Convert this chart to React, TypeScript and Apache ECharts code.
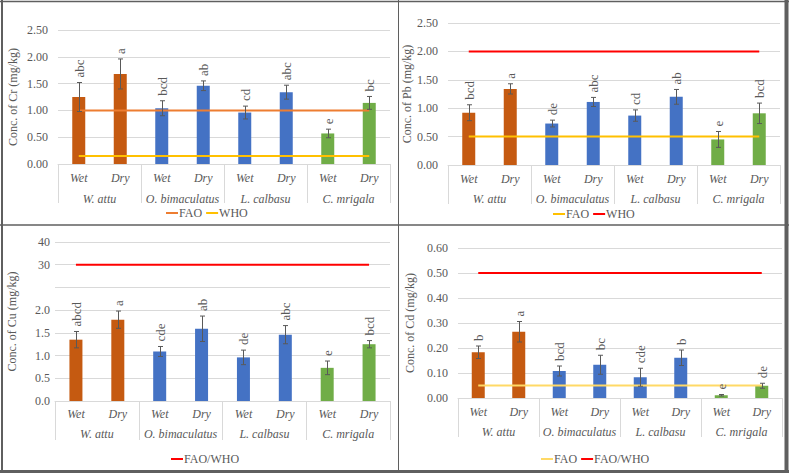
import React, { useEffect, useRef } from 'react';
import * as echarts from 'echarts';

// ---------- data ----------
const seasons = ['Wet', 'Dry', 'Wet', 'Dry', 'Wet', 'Dry', 'Wet', 'Dry'];
const species = ['W. attu', 'O. bimaculatus', 'L. calbasu', 'C. mrigala'];
const speciesColors = ['#C55A11', '#4472C4', '#4472C4', '#70AD47'];

const crMean = [1.25, 1.68, 1.04, 1.46, 0.96, 1.34, 0.57, 1.14];
const crErr = [0.27, 0.28, 0.14, 0.09, 0.12, 0.13, 0.08, 0.12];
const crLetters = ['abc', 'a', 'bcd', 'ab', 'cd', 'abc', 'e', 'bc'];
const crFAO = 1.0;
const crWHO = 0.15;

const pbMean = [0.92, 1.34, 0.73, 1.11, 0.87, 1.2, 0.45, 0.91];
const pbErr = [0.14, 0.09, 0.06, 0.08, 0.1, 0.13, 0.14, 0.18];
const pbLetters = ['bcd', 'a', 'de', 'abc', 'cd', 'ab', 'e', 'bcd'];
const pbFAO = 0.5;
const pbWHO = 2.0;

const cuMean = [1.35, 1.79, 1.09, 1.59, 0.96, 1.46, 0.73, 1.25];
const cuErr = [0.18, 0.19, 0.11, 0.28, 0.16, 0.2, 0.15, 0.08];
const cuLetters = ['abcd', 'a', 'cde', 'ab', 'de', 'abc', 'e', 'bcd'];
const cuFAOWHO = 30;

const cdMean = [0.183, 0.265, 0.108, 0.133, 0.083, 0.161, 0.011, 0.049];
const cdErr = [0.025, 0.041, 0.02, 0.038, 0.036, 0.031, 0.003, 0.01];
const cdLetters = ['b', 'a', 'bcd', 'bc', 'cde', 'b', 'e', 'de'];
const cdFAO = 0.05;
const cdFAOWHO = 0.5;

// ---------- styling ----------
const FONT = 'Liberation Serif';
const TXT = '#595959';
const GRIDC = '#D9D9D9';

const identity = (v: number) => v;
// broken Cu axis: 0–2.5 linear, then 30 -> 3.0, 40 -> 3.5
const mapCu = (v: number) => (v <= 2.5 ? v : 3 + (v - 30) / 20);
const fmtCu = (v: number) => {
  if (v <= 2.0001) return v.toFixed(1);
  if (v < 2.75) return '';
  return String(Math.round(30 + (v - 3) * 20));
};

type Limit = { name: string; value: number; color: string };
type Panel = {
  key: string;
  title: string;
  mean: number[];
  err: number[];
  letters: string[];
  limits: Limit[];
  grid: { left: number; top: number; width: number; height: number };
  yMax: number;
  interval: number;
  fmt: (v: number) => string;
  labelMargin: number;
  nameGap: number;
  legend: { left: number; top: number };
  map: (v: number) => number;
  wetMargin: number;
  spMargin: number;
};

const panels: Panel[] = [
  {
    key: 'Cr', title: 'Conc. of Cr (mg/kg)', mean: crMean, err: crErr, letters: crLetters,
    limits: [
      { name: 'FAO', value: crFAO, color: '#ED7D31' },
      { name: 'WHO', value: crWHO, color: '#FFC000' },
    ],
    grid: { left: 58, top: 30, width: 332, height: 134 },
    yMax: 2.5, interval: 0.5, fmt: (v) => v.toFixed(2), labelMargin: 10, nameGap: 39,
    legend: { left: 161, top: 202 }, map: identity, wetMargin: 8, spMargin: 29,
  },
  {
    key: 'Pb', title: 'Conc. of Pb (mg/kg)', mean: pbMean, err: pbErr, letters: pbLetters,
    limits: [
      { name: 'FAO', value: pbFAO, color: '#FFC000' },
      { name: 'WHO', value: pbWHO, color: '#FF0000' },
    ],
    grid: { left: 448, top: 23, width: 332, height: 142 },
    yMax: 2.5, interval: 0.5, fmt: (v) => v.toFixed(2), labelMargin: 10, nameGap: 34,
    legend: { left: 548, top: 203 }, map: identity, wetMargin: 8, spMargin: 28,
  },
  {
    key: 'Cu', title: 'Conc. of Cu (mg/kg)', mean: cuMean, err: cuErr, letters: cuLetters,
    limits: [{ name: 'FAO/WHO', value: cuFAOWHO, color: '#FF0000' }],
    grid: { left: 55, top: 242, width: 335, height: 159 },
    yMax: 3.5, interval: 0.5, fmt: fmtCu, labelMargin: 5, nameGap: 37,
    legend: { left: 166, top: 448 }, map: mapCu, wetMargin: 7, spMargin: 27,
  },
  {
    key: 'Cd', title: 'Conc. of Cd (mg/kg)', mean: cdMean, err: cdErr, letters: cdLetters,
    limits: [
      { name: 'FAO', value: cdFAO, color: '#FFD966' },
      { name: 'FAO/WHO', value: cdFAOWHO, color: '#FF0000' },
    ],
    grid: { left: 458, top: 248, width: 324, height: 150 },
    yMax: 0.6, interval: 0.1, fmt: (v) => v.toFixed(2), labelMargin: 10, nameGap: 42,
    legend: { left: 536, top: 448 }, map: identity, wetMargin: 8, spMargin: 28,
  },
];

function buildOption() {
  const grid: any[] = [];
  const xAxis: any[] = [];
  const yAxis: any[] = [];
  const series: any[] = [];
  const legend: any[] = [];

  panels.forEach((p, i) => {
    grid.push({ ...p.grid, containLabel: false });
    xAxis.push({
      gridIndex: i,
      type: 'category',
      data: seasons,
      axisLine: { show: true, lineStyle: { color: GRIDC, width: 1 } },
      axisTick: { show: false },
      axisLabel: {
        interval: 0, margin: p.wetMargin, color: TXT, fontSize: 12,
        fontFamily: FONT, fontStyle: 'italic',
      },
      splitLine: { show: false },
    });
    xAxis.push({
      gridIndex: i,
      type: 'category',
      position: 'bottom',
      data: species,
      axisLine: { show: false },
      axisTick: { show: true, interval: 0, length: 39, lineStyle: { color: GRIDC, width: 1 } },
      axisLabel: {
        interval: 0, margin: p.spMargin, color: TXT, fontSize: 12,
        fontFamily: FONT, fontStyle: 'italic',
      },
      splitLine: { show: false },
    });
    yAxis.push({
      gridIndex: i,
      type: 'value',
      min: 0,
      max: p.yMax,
      interval: p.interval,
      axisLine: { show: false },
      axisTick: { show: false },
      splitLine: { show: true, lineStyle: { color: GRIDC, width: 1 } },
      axisLabel: {
        formatter: p.fmt, margin: p.labelMargin, color: TXT, fontSize: 12, fontFamily: FONT,
      },
      name: p.title,
      nameLocation: 'middle',
      nameGap: p.nameGap,
      nameTextStyle: { color: TXT, fontSize: 12, fontFamily: FONT },
    });

    const xi = 2 * i;
    series.push({
      type: 'bar',
      name: 'bars|' + p.key,
      xAxisIndex: xi,
      yAxisIndex: i,
      barWidth: 13,
      data: p.mean.map((v, k) => ({
        value: p.map(v),
        itemStyle: { color: speciesColors[Math.floor(k / 2)] },
      })),
      z: 2,
    });

    p.limits.forEach((l) => {
      series.push({
        type: 'line',
        name: l.name + '|' + p.key,
        xAxisIndex: xi,
        yAxisIndex: i,
        data: seasons.map(() => p.map(l.value)),
        symbol: 'none',
        color: l.color,
        itemStyle: { color: l.color },
        lineStyle: { color: l.color, width: 2 },
        z: 3,
      });
    });

    const letters = p.letters;
    series.push({
      type: 'custom',
      name: 'err|' + p.key,
      xAxisIndex: xi,
      yAxisIndex: i,
      z: 4,
      data: p.mean.map((v, k) => [k, p.map(Math.max(0, v - p.err[k])), p.map(v + p.err[k])]),
      renderItem: (params: any, api: any) => {
        const x = api.value(0);
        const lo = api.coord([x, api.value(1)]);
        const hi = api.coord([x, api.value(2)]);
        const cx = Math.round(hi[0]) + 0.5;
        const cap = 2.5;
        const st = { stroke: '#595959', lineWidth: 1 };
        return {
          type: 'group',
          children: [
            { type: 'line', shape: { x1: cx, y1: lo[1], x2: cx, y2: hi[1] }, style: st },
            { type: 'line', shape: { x1: cx - cap, y1: lo[1], x2: cx + cap, y2: lo[1] }, style: st },
            { type: 'line', shape: { x1: cx - cap, y1: hi[1], x2: cx + cap, y2: hi[1] }, style: st },
            {
              type: 'text',
              x: cx,
              y: hi[1] - 5,
              rotation: Math.PI / 2,
              style: {
                text: letters[params.dataIndex],
                fill: TXT,
                fontSize: 13,
                fontFamily: FONT,
                align: 'left',
                verticalAlign: 'middle',
              },
            },
          ],
        };
      },
    });

    legend.push({
      left: p.legend.left,
      top: p.legend.top,
      orient: 'horizontal',
      icon: 'rect',
      itemWidth: 12,
      itemHeight: 2,
      itemGap: 4,
      selectedMode: false,
      data: p.limits.map((l) => l.name + '|' + p.key),
      formatter: (name: string) => name.split('|')[0],
      textStyle: { color: TXT, fontSize: 12, fontFamily: FONT, padding: [0, 0, 0, -4] },
    });
  });

  const border = '#5f5f5f';
  const graphic = [
    { type: 'line', shape: { x1: 2, y1: 0, x2: 2, y2: 473 }, style: { stroke: border, lineWidth: 2 } },
    { type: 'line', shape: { x1: 0, y1: 1.5, x2: 789, y2: 1.5 }, style: { stroke: border, lineWidth: 1.5 } },
    { type: 'line', shape: { x1: 786.5, y1: 0, x2: 786.5, y2: 473 }, style: { stroke: border, lineWidth: 4 } },
    { type: 'line', shape: { x1: 0, y1: 471.5, x2: 789, y2: 471.5 }, style: { stroke: border, lineWidth: 3 } },
    { type: 'line', shape: { x1: 398.5, y1: 0, x2: 398.5, y2: 473 }, style: { stroke: border, lineWidth: 1 } },
    { type: 'line', shape: { x1: 0, y1: 225, x2: 789, y2: 225 }, style: { stroke: border, lineWidth: 1.5 } },
  ];

  return {
    animation: false,
    backgroundColor: '#ffffff',
    textStyle: { fontFamily: FONT },
    grid,
    xAxis,
    yAxis,
    series,
    legend,
    graphic,
  };
}

export default function App() {
  const ref = useRef<HTMLDivElement>(null);
  useEffect(() => {
    if (!ref.current) return;
    const chart = echarts.init(ref.current, undefined, { renderer: 'svg' });
    chart.setOption(buildOption() as any);
    return () => chart.dispose();
  }, []);
  return (
    <div
      ref={ref}
      style={{ position: 'fixed', left: 0, top: 0, width: 789, height: 473, background: '#fff' }}
    />
  );
}
